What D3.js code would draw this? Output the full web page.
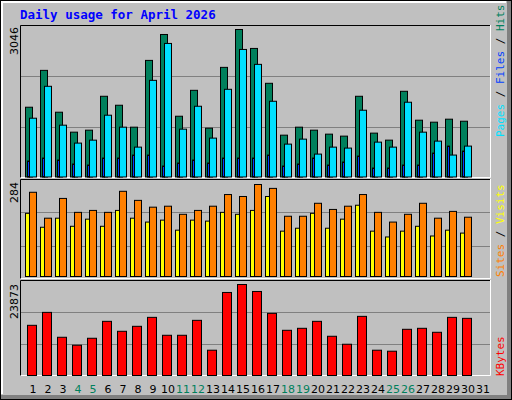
<!DOCTYPE html>
<html><head><meta charset="utf-8">
<script src="https://cdn.jsdelivr.net/npm/d3@7"></script>
<style>body{margin:0;background:#fff}</style></head>
<body><svg id="c" width="512" height="400"></svg>
<script>
const days = d3.range(1,32);
const weekend = [4,5,11,12,18,19,25,26];
const hits  = [1441,2202,1338,926,967,1667,1482,1029,2408,2943,1255,1790,1008,2264,3046,2655,1935,864,1029,967,885,844,1667,906,761,1770,1173,1132,1194,1152];
const files = [1214,1873,1070,700,761,1276,1029,617,1996,2758,988,1461,803,1811,2634,2326,1564,679,782,473,617,597,1379,720,617,1544,926,741,453,638];
const pages = [329,391,350,268,247,391,391,453,453,226,288,350,288,391,391,391,453,226,268,391,247,309,432,185,185,247,247,494,638,535];
const visits= [260,180,241,198,204,198,263,235,214,217,192,204,217,253,247,284,272,186,186,226,207,217,253,198,168,192,226,180,201,183];
const sites = [195,152,180,155,177,155,204,180,168,174,143,174,171,198,192,204,247,140,149,195,149,177,220,140,122,140,155,125,143,134];
const kbytes= [13165,16560,10030,7940,9769,14209,11597,12903,15254,10552,10552,14470,6634,21784,23873,22045,16299,11858,12381,14209,10291,8201,15515,6634,6373,12120,12381,11336,15254,14993];
const maxLabels = ["3046","284","23873"];

const svg = d3.select("#c");
// frame
svg.append("rect").attr("x",0).attr("y",0).attr("width",512).attr("height",400).attr("fill","#808080");
svg.append("rect").attr("x",0).attr("y",0).attr("width",507).attr("height",395).attr("fill","#c0c0c0");
svg.append("path").attr("d","M1.5,394V1.5H506").attr("stroke","#fff").attr("stroke-width",3).attr("fill","none");
svg.append("rect").attr("x",0.5).attr("y",0.5).attr("width",511).attr("height",399).attr("fill","none").attr("stroke","#000");

svg.append("text").attr("x",20).attr("y",19).text("Daily usage for April 2026")
  .attr("font-family","DejaVu Sans Mono").attr("font-weight","bold").attr("font-size",12.5).attr("fill","#0000ff");

const x = d3.scaleLinear().domain([1,2]).range([25,40]);
const panels = [{t:25,b:178},{t:179,b:279},{t:280,b:376}];
panels.forEach(p=>{
  svg.append("rect").attr("x",21).attr("y",p.t).attr("width",470).attr("height",p.b-p.t).attr("fill","#c0c0c0");
  const h=(p.b-p.t)/3;
  [1,2].forEach(i=>svg.append("line").attr("x1",21).attr("x2",491).attr("y1",Math.round(p.t+h*i)+0.5).attr("y2",Math.round(p.t+h*i)+0.5).attr("stroke","#808080"));
  svg.append("path").attr("d",`M20.5,${p.b}V${p.t+0.5}H490.5`).attr("stroke","#000").attr("fill","none");
  svg.append("path").attr("d",`M20.5,${p.b-0.5}H490.5V${p.t}`).attr("stroke","#fff").attr("fill","none");
});

function bars(data, y, dx, w, color){
  svg.append("g").selectAll("rect").data(data).join("rect")
    .attr("x",(d,i)=>x(i+1)+dx+0.5).attr("y",d=>y(d)+0.5)
    .attr("width",w).attr("height",d=>y(0)-y(d))
    .attr("fill",color).attr("stroke","#000");
}
const y1 = d3.scaleLinear().domain([0,3046]).range([176.5,29]);
bars(hits,y1,0,7,"#00805c");
bars(files,y1,4,7,"#00e0ff");
bars(pages,y1,2,2,"#0040ff");
const y2 = d3.scaleLinear().domain([0,284]).range([276,184]);
bars(sites,y2,0,4,"#ffff00");
bars(visits,y2,4,7,"#ff8000");
const y3 = d3.scaleLinear().domain([0,23873]).range([375,284]);
bars(kbytes,y3,2,9,"#ff0000");

// day labels
svg.append("g").selectAll("text").data(days).join("text")
  .attr("x",d=>x(d)+8).attr("y",393).attr("text-anchor","middle")
  .attr("font-family","DejaVu Sans").attr("font-size",11)
  .attr("fill",d=>weekend.includes(d)?"#00805c":"#000").text(d=>d);

// max labels
[[25,maxLabels[0]],[180,maxLabels[1]],[282,maxLabels[2]]].forEach(([t,s])=>{
  svg.append("text").attr("transform",`translate(18,${t+2}) rotate(-90)`).attr("text-anchor","end")
   .attr("font-family","DejaVu Sans").attr("font-size",11).text(s);
});
// right labels
function rlabel(yb, parts){
  const t=svg.append("text").attr("transform",`translate(504,${yb}) rotate(-90)`)
    .attr("font-family","DejaVu Sans Mono").attr("font-size",11);
  parts.forEach(([s,c])=>t.append("tspan").attr("fill",c).text(s));
}
rlabel(137,[["Pages","#00e0ff"],[" / ","#000"],["Files","#0040ff"],[" / ","#000"],["Hits","#00805c"]]);
rlabel(277,[["Sites","#ff8000"],[" / ","#000"],["Visits","#ffff00"]]);
rlabel(376,[["KBytes","#ff0000"]]);
</script></body></html>
